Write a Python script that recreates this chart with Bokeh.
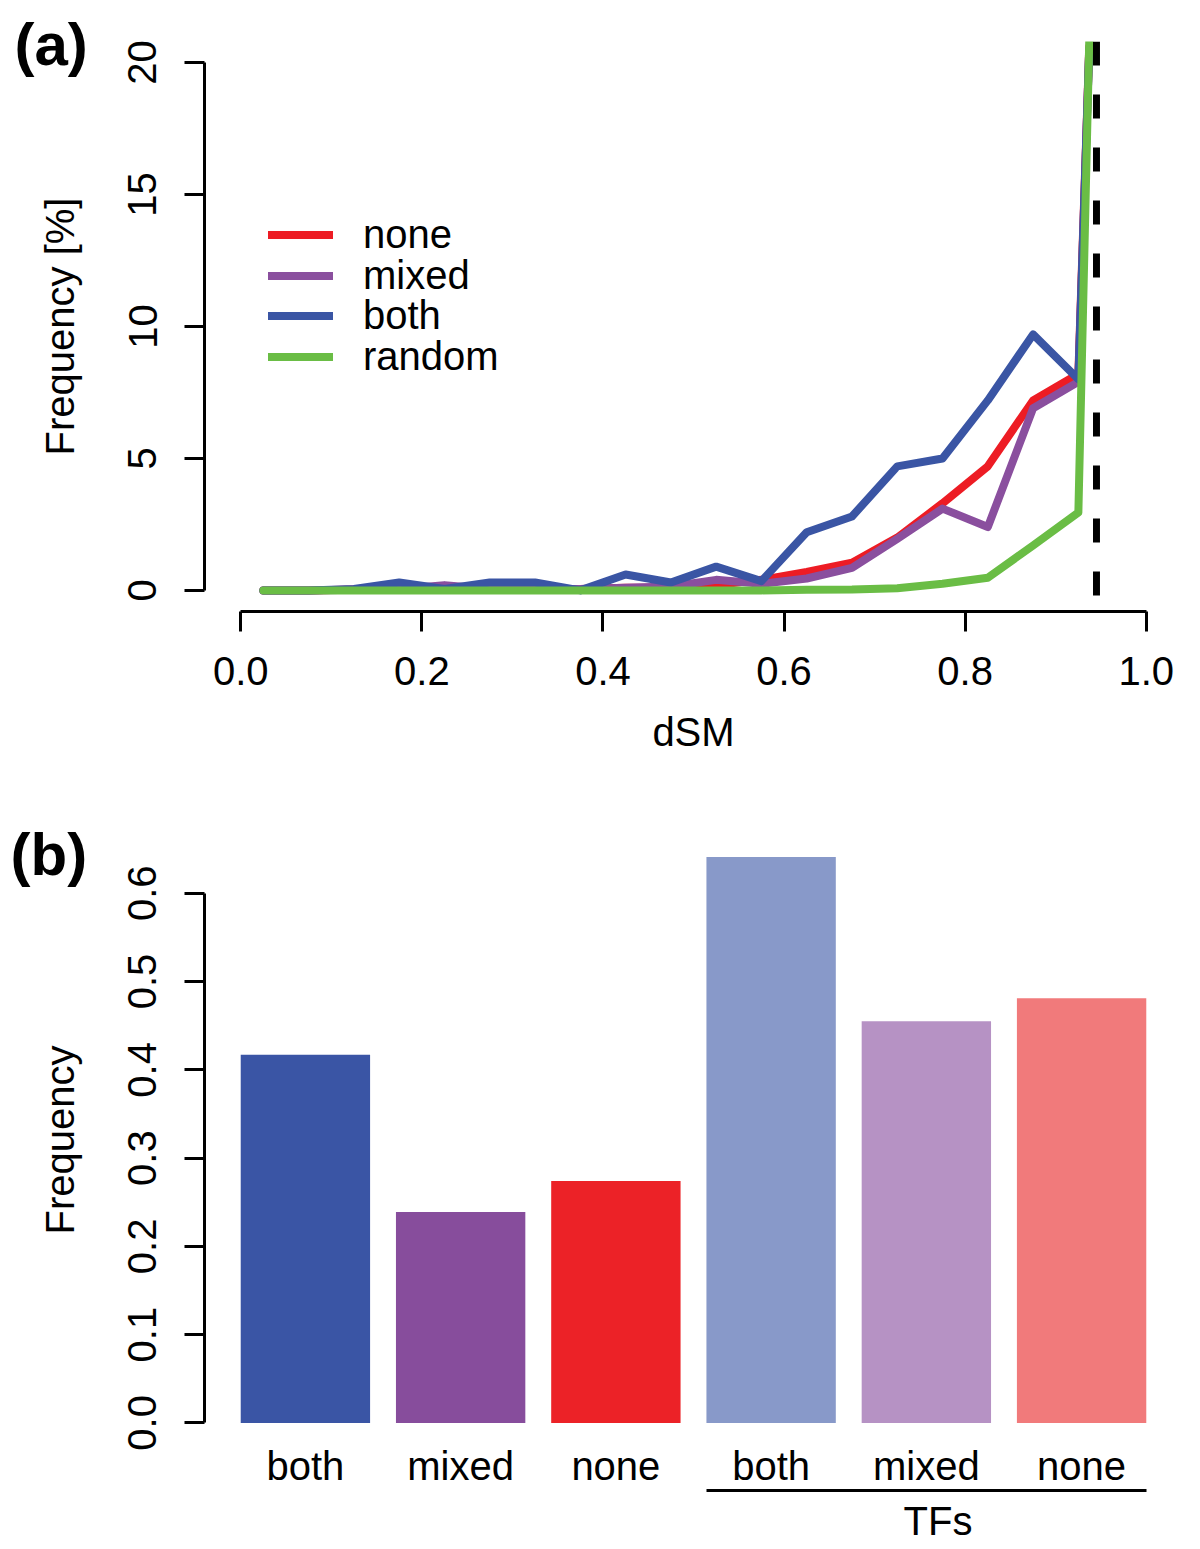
from bokeh.plotting import figure
from bokeh.models import (Range1d, FixedTicker, Span, Legend, LegendItem, Title,
                          LinearAxis, PrintfTickFormatter)
from bokeh.layouts import column
from bokeh.embed import file_html
from bokeh.resources import INLINE

FONT = "Liberation Sans"

# ---------------- data: panel (a) ----------------
dsm = [0.025, 0.075, 0.125, 0.175, 0.225, 0.275, 0.325, 0.375, 0.425, 0.475,
       0.525, 0.575, 0.625, 0.675, 0.725, 0.775, 0.825, 0.875, 0.925, 0.937]
freq_none = [0, 0, 0.03, 0.05, 0.05, 0.05, 0.05, 0.05, 0.1, 0.1,
             0.2, 0.4, 0.7, 1.05, 2.0, 3.3, 4.7, 7.2, 8.2, 20.6]
freq_mixed = [0, 0, 0.02, 0.05, 0.2, 0.05, 0.05, 0.05, 0.1, 0.15,
              0.4, 0.25, 0.45, 0.85, 1.95, 3.1, 2.4, 6.9, 7.9, 20.5]
freq_both = [0, 0, 0.05, 0.3, 0.05, 0.3, 0.3, 0.0, 0.6, 0.3,
             0.9, 0.35, 2.2, 2.8, 4.7, 5.0, 7.2, 9.7, 8.0, 20.5]
freq_random = [0, 0, 0, 0, 0, 0, 0, 0, 0, 0,
               0, 0, 0.02, 0.03, 0.08, 0.25, 0.48, 1.7, 2.95, 20.8]
series_names = ["none", "mixed", "both", "random"]
series_colors = ["#ED1C24", "#8A4F9E", "#3A55A4", "#6ABD45"]
threshold = 0.945
x_ticks_a = [0.0, 0.2, 0.4, 0.6, 0.8, 1.0]
y_ticks_a = [0, 5, 10, 15, 20]

# ---------------- data: panel (b) ----------------
bar_labels = ["both", "mixed", "none", "both", "mixed", "none"]
bar_values = [0.417, 0.239, 0.274, 0.641, 0.455, 0.481]
bar_colors = ["#3A55A5", "#874D9C", "#EC2227", "#8899C9", "#B692C4", "#F17A7B"]
bar_group = ["", "", "", "TFs", "TFs", "TFs"]
group_name = "TFs"
group_label_x = 5.59
y_ticks_b = [0.0, 0.1, 0.2, 0.3, 0.4, 0.5, 0.6]


def style_axes(p):
    for ax in (p.xaxis + p.yaxis):
        ax.axis_line_width = 3
        ax.axis_line_color = "black"
        ax.major_tick_line_width = 3
        ax.major_tick_line_color = "black"
        ax.major_tick_out = 20
        ax.major_tick_in = 0
        ax.minor_tick_line_color = None
        ax.major_label_text_font = FONT
        ax.major_label_text_font_size = "40px"
        ax.major_label_text_color = "black"
        ax.axis_label_text_font = FONT
        ax.axis_label_text_font_size = "40px"
        ax.axis_label_text_font_style = "normal"
        ax.axis_label_text_color = "black"


def panel_title(text, offset, standoff):
    return Title(text=text, align="left", vertical_align="bottom", offset=offset,
                 standoff=standoff, text_font=FONT, text_font_style="bold",
                 text_font_size="60px", text_color="black")


# ================= panel (a) =================
pa = figure(width=1192, height=780, x_range=Range1d(-0.04, 1.04), y_range=Range1d(-0.8, 20.8),
            output_backend="svg", toolbar_location=None,
            min_border_left=204, min_border_right=10, min_border_top=41, min_border_bottom=169)
pa.outline_line_color = None
pa.grid.visible = False
pa.title = panel_title("(a)", -190, -72)

vals = [freq_none, freq_mixed, freq_both, freq_random]
renderers = []
for name, col, v in zip(series_names, series_colors, vals):
    r = pa.line(dsm, v, line_color=col, line_width=8, line_cap="round", line_join="round")
    renderers.append(r)

pa.add_layout(Span(location=threshold, dimension="height", line_color="black",
                   line_width=7, line_dash="24 29"))

# legend: one entry per Legend so the row pitch can match the original (about 41px)
n_items = len(series_names)
for i, (n, r) in enumerate(zip(series_names, renderers)):
    lg = Legend(items=[LegendItem(label=n, renderers=[r])],
                location=(64, round(232 + (n_items - 1 - i) * 40.7)),
                border_line_color=None, background_fill_alpha=0,
                glyph_width=65, glyph_height=41, label_height=41, spacing=0, padding=0, margin=0,
                label_standoff=30, label_text_font=FONT, label_text_font_size="40px",
                label_text_color="black")
    pa.add_layout(lg)

pa.xaxis.bounds = (0, 1)
pa.xaxis.ticker = FixedTicker(ticks=x_ticks_a)
pa.xaxis.formatter = PrintfTickFormatter(format="%.1f")
pa.xaxis.axis_label = "dSM"
pa.yaxis.bounds = (0, 20)
pa.yaxis.ticker = FixedTicker(ticks=y_ticks_a)
pa.yaxis.axis_label = "Frequency [%]"
pa.yaxis.major_label_orientation = "vertical"
style_axes(pa)
pa.xaxis.major_label_standoff = 25
pa.xaxis.axis_label_standoff = 22
pa.yaxis.major_label_standoff = 28
pa.yaxis.axis_label_standoff = 44

# ================= panel (b) =================
pb = figure(width=1192, height=769, x_range=Range1d(-0.08, 7.48), y_range=Range1d(-0.0256, 0.6666),
            output_backend="svg", toolbar_location=None,
            min_border_left=204, min_border_right=10, min_border_top=54, min_border_bottom=104)
pb.outline_line_color = None
pb.grid.visible = False
pb.title = panel_title("(b)", -194, -106)

centers = [round(0.7 + 1.2 * i, 2) for i in range(len(bar_values))]
pb.vbar(x=centers, top=bar_values, bottom=0, width=1.0, fill_color=bar_colors, line_color=None)

group_axis = LinearAxis()
pb.add_layout(group_axis, "below")

pb.yaxis.bounds = (0, 0.6)
pb.yaxis.ticker = FixedTicker(ticks=y_ticks_b)
pb.yaxis.formatter = PrintfTickFormatter(format="%.1f")
pb.yaxis.axis_label = "Frequency"
pb.yaxis.major_label_orientation = "vertical"
style_axes(pb)
pb.yaxis.major_label_standoff = 28
pb.yaxis.axis_label_standoff = 44

cat_axis = pb.xaxis[0]
cat_axis.ticker = FixedTicker(ticks=centers)
cat_axis.major_label_overrides = {c: t for c, t in zip(centers, bar_labels)}
cat_axis.axis_line_color = None
cat_axis.major_tick_line_color = None
cat_axis.major_tick_out = 0
cat_axis.major_label_standoff = -2

grp_idx = [i for i, g in enumerate(bar_group) if g == group_name]
group_axis.bounds = (centers[grp_idx[0]] - 0.5, centers[grp_idx[-1]] + 0.5)
group_axis.ticker = FixedTicker(ticks=[group_label_x])
group_axis.major_label_overrides = {group_label_x: group_name}
group_axis.major_tick_line_color = None
group_axis.major_tick_out = 0
group_axis.major_label_standoff = 8

layout = column(pa, pb, spacing=0)
open("out.html", "w").write(file_html(layout, INLINE))
